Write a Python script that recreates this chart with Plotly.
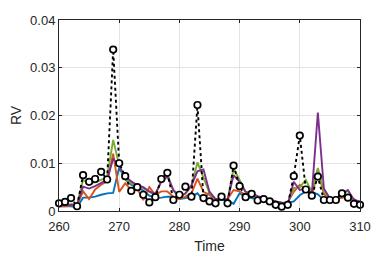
import plotly.graph_objects as go

time = list(range(260, 311))

rv_true = [.0016, .0019, .0027, .0010, .0075, .0061, .0067, .0082, .0066, .0338,
           .0100, .0073, .0042, .0050, .0034, .0018, .0029, .0067, .0080, .0023,
           .0034, .0051, .0030, .0222, .0027, .0020, .0016, .0030, .0016, .0095,
           .0052, .0029, .0036, .0022, .0025, .0020, .0013, .0009, .0013, .0073,
           .0158, .0045, .0032, .0072, .0023, .0023, .0023, .0037, .0028, .0015,
           .0013]

fc_blue = [.0010, .0010, .0010, .0008, .0028, .0028, .0030, .0034, .0037, .0038,
           .0091, .0066, .0055, .0048, .0043, .0032, .0027, .0028, .0030, .0030,
           .0025, .0027, .0030, .0037, .0022, .0040, .0023, .0023, .0023, .0015,
           .0037, .0030, .0027, .0024, .0024, .0022, .0020, .0017, .0017, .0020,
           .0033, .0041, .0040, .0035, .0023, .0023, .0022, .0030, .0028, .0025,
           .0015]

fc_orange = [.0010, .0010, .0012, .0012, .0041, .0025, .0045, .0055, .0062, .0120,
             .0040, .0058, .0044, .0047, .0023, .0050, .0034, .0041, .0041, .0030,
             .0025, .0030, .0037, .0068, .0040, .0034, .0023, .0025, .0025, .0044,
             .0041, .0034, .0034, .0027, .0025, .0022, .0020, .0017, .0018, .0040,
             .0055, .0045, .0030, .0086, .0035, .0025, .0025, .0028, .0030, .0025,
             .0015]

fc_green = [.0012, .0012, .0014, .0014, .0065, .0058, .0060, .0065, .0072, .0149,
            .0096, .0068, .0058, .0050, .0048, .0040, .0033, .0065, .0078, .0042,
            .0030, .0036, .0052, .0102, .0070, .0038, .0025, .0025, .0023, .0089,
            .0065, .0040, .0036, .0030, .0027, .0024, .0020, .0016, .0015, .0048,
            .0050, .0065, .0040, .0090, .0040, .0025, .0025, .0035, .0042, .0022,
            .0018]

fc_purple = [.0012, .0012, .0013, .0013, .0051, .0047, .0052, .0059, .0065, .0110,
             .0093, .0073, .0062, .0054, .0050, .0041, .0036, .0061, .0072, .0044,
             .0030, .0037, .0054, .0083, .0087, .0040, .0025, .0025, .0023, .0075,
             .0061, .0040, .0037, .0031, .0028, .0024, .0020, .0018, .0015, .0061,
             .0044, .0047, .0036, .0206, .0047, .0026, .0026, .0036, .0044, .0023,
             .0020]

fig = go.Figure()
for vals, col in [(fc_blue, "#0072BD"), (fc_orange, "#D95319"),
                  (fc_green, "#77AC30"), (fc_purple, "#7E2F8E")]:
    fig.add_trace(go.Scatter(x=time, y=vals, mode="lines",
                             line=dict(color=col, width=1.9),
                             showlegend=False, cliponaxis=False))

fig.add_trace(go.Scatter(x=time, y=rv_true, mode="lines+markers",
                         line=dict(color="black", width=1.9, dash="dot"),
                         marker=dict(symbol="circle", size=6.5, color="white",
                                     line=dict(color="black", width=1.7)),
                         showlegend=False, cliponaxis=False))

font_family = "Liberation Sans, Arial"
axis_common = dict(showline=True, linecolor="#262626", linewidth=1,
                   mirror="allticks", ticks="inside", ticklen=3,
                   tickcolor="#262626", showgrid=True, gridcolor="#e3e3e3",
                   gridwidth=1, zeroline=False,
                   tickfont=dict(family=font_family, size=13, color="#262626"))

fig.update_xaxes(range=[260, 310], dtick=10, tick0=260, ticklabelstandoff=3,
                 title=dict(text="Time", font=dict(family=font_family,
                                                    size=14, color="#262626"),
                            standoff=8),
                 **axis_common)
fig.update_yaxes(range=[0, 0.04], dtick=0.01, tick0=0,
                 title=dict(text="RV", font=dict(family=font_family,
                                                  size=14, color="#262626"),
                            standoff=6),
                 **axis_common)

# page body has a default 8px margin, so the figure is offset by 8px
fig.update_layout(width=373, height=249,
                  margin=dict(l=51, r=21, t=12, b=46, autoexpand=False),
                  paper_bgcolor="white", plot_bgcolor="white")

fig.write_html("out.html")
